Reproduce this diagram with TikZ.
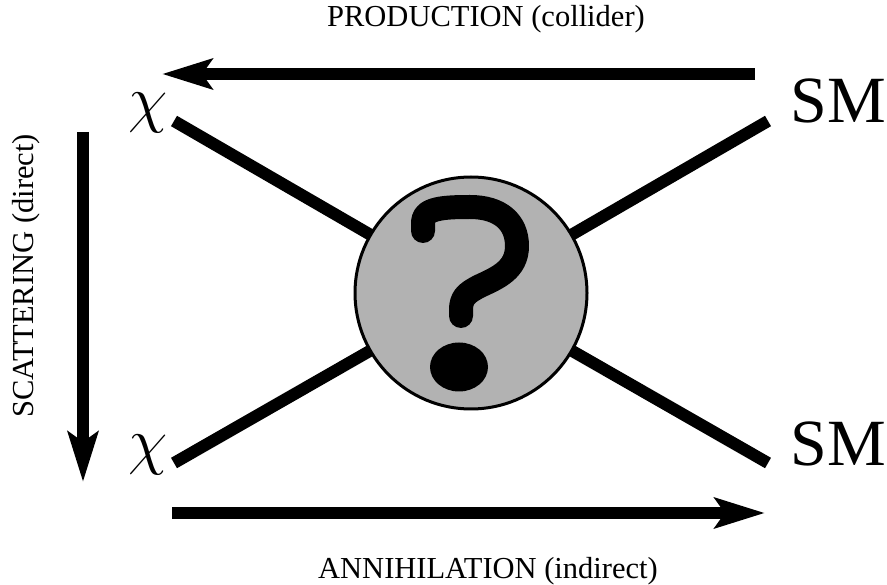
\documentclass[tikz,border=0pt]{standalone}
\usepackage{graphicx}
\usepackage{fontspec}
\setmainfont{Liberation Serif}
\usetikzlibrary{arrows.meta}
\newcommand{\bigchi}{\scalebox{2.57}{\fontsize{24.88}{30}\selectfont$\chi$}}
\tikzset{
  leg/.style={line width=12pt, line cap=butt},
  flow/.style={line width=12pt, -{Stealth[length=50pt, width=30pt, inset=10pt]}},
  blob/.style={circle, draw=black, line width=3pt, fill=black!30, minimum size=232pt, inner sep=0pt},
  qmark/.style={line width=24pt, line cap=round, line join=round},
  lbl/.style={font=\fontsize{30.5}{36}\selectfont, inner sep=0pt, anchor=base},
  particle/.style={font=\fontsize{66}{72}\selectfont, inner sep=0pt, anchor=base},
  greek/.style={inner sep=0pt, anchor=base}
}
\begin{document}
\begin{tikzpicture}[x=1pt, y=-1pt]
  \useasboundingbox (0,0) rectangle (887,585);

  % vertex and leg end points
  \coordinate (vtx) at (471,293);
  \coordinate (legTL) at (174,121);
  \coordinate (legBL) at (174,463);
  \coordinate (legTR) at (768,121);
  \coordinate (legBR) at (768,463);

  % external particles
  \node[greek] (chiT) at (148,121) {\bigchi};
  \node[greek] (chiB) at (148,463) {\bigchi};
  \node[particle] (smT) at (838,123) {SM};
  \node[particle] (smB) at (838,465) {SM};

  % legs into the vertex
  \draw[leg] (legTL) -- (vtx);
  \draw[leg] (legBL) -- (vtx);
  \draw[leg] (legTR) -- (vtx);
  \draw[leg] (legBR) -- (vtx);

  % the unknown interaction
  \node[blob] (blob) at (vtx) {};
  \draw[qmark] (423,231) -- (423,222)
    .. controls (423,208) and (445,207) .. (470,207)
    .. controls (500,207) and (517,222) .. (517,246)
    .. controls (517,270) and (497,278) .. (480,286)
    .. controls (466,293) and (461,298) .. (461,310) -- (461,316);
  \fill (459,367) ellipse [x radius=29, y radius=24.5];

  % process directions
  \coordinate (prodA) at (755,74);
  \coordinate (prodB) at (162,74);
  \coordinate (annA) at (172,513);
  \coordinate (annB) at (765,513);
  \coordinate (scatA) at (83,132);
  \coordinate (scatB) at (83,482);
  \draw[flow] (prodA) -- (prodB);
  \draw[flow] (annA) -- (annB);
  \draw[flow] (scatA) -- (scatB);

  % process labels
  \node[lbl] (prod) at (486,27) {PRODUCTION (collider)};
  \node[lbl] (ann) at (488,578) {ANNIHILATION (indirect)};
  \node[lbl, rotate=90] (scat) at (33,276) {SCATTERING (direct)};
\end{tikzpicture}
\end{document}
